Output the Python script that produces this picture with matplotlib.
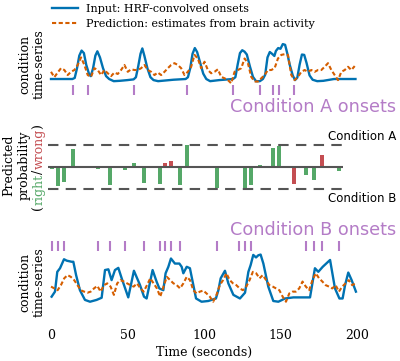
import matplotlib
matplotlib.use("Agg")
import matplotlib.pyplot as plt
import numpy as np

plt.rcParams['font.family'] = 'serif'
plt.rcParams['font.serif'] = ['DejaVu Serif']

# onset times (seconds)
onsets_a = [14.5, 24, 54, 89, 119, 136.5, 145, 149, 159]
onsets_b = [0.5, 4.5, 8.5, 30.5, 38.5, 48.5, 61, 71, 74.5, 78.5, 84.5, 108.5,
            123, 127, 130.5, 166.5, 172, 177, 188.5]

# condition A: HRF-convolved onsets
t_a = [0, 14, 15.5, 17, 18.5, 20, 21.5, 23, 25, 26, 27.5, 29, 30.3, 32, 34, 36, 38, 41, 45, 50,
       54, 55.5, 57, 58.5, 59.7, 61, 63, 65, 67, 70, 75, 80, 88, 89.5, 91, 92.5, 94, 95.5, 97.5, 99.5,
       101.5, 104, 110, 119, 120.5, 122, 123.5, 125, 126.5, 128, 130, 132, 134, 136.5, 138.5, 140,
       141.5, 143, 144.5, 146, 147, 148.5, 150, 151.5, 153, 154.5, 156, 158, 159.5, 161, 162.5, 164,
       165.5, 167, 169, 171, 174, 178, 185, 199]
v_a = [0, 0, 0.03, 0.3, 0.65, 0.79, 0.72, 0.4, 0.12, 0.08, 0.3, 0.65, 0.77, 0.6, 0.3, 0.08, 0, -0.06,
       -0.05, -0.03, -0.01, 0.05, 0.35, 0.7, 0.85, 0.65, 0.3, 0.05, -0.03, -0.06, -0.04, -0.02, 0, 0.05,
       0.3, 0.7, 0.86, 0.75, 0.45, 0.15, 0, -0.06, -0.03, 0, 0.05, 0.4, 0.72, 0.8, 0.76, 0.68, 0.35,
       0.06, -0.06, -0.06, 0.0, 0.12, 0.6, 0.75, 0.7, 0.64, 0.78, 0.86, 0.84, 0.97, 0.95, 0.7, 0.4, 0.1,
       -0.03, 0.04, 0.4, 0.68, 0.67, 0.45, 0.1, -0.02, -0.06, -0.05, 0, 0]
# condition A: prediction from brain activity
pred_a = [0.20, 0.05, 0.18, 0.30, 0.25, 0.11, 0.20, 0.25, 0.39, 0.60, 0.39, 0.11, 0.06, 0.30, 0.25,
          0.11, 0.25, 0.16, 0.08, 0.18, 0.14, 0.25, 0.39, 0.20, 0.27, 0.25, 0.25, 0.30, 0.39, 0.25,
          0.20, 0.11, 0.18, 0.11, 0.20, 0.30, 0.39, 0.44, 0.39, 0.30, 0.11, 0.20, 0.34, 0.67, 0.57,
          0.30, 0.48, 0.25, 0.16, 0.20, 0.27, 0.06, 0.02, -0.03, -0.12, 0.20, 0.25, 0.30, 0.57, 0.44,
          0.06, -0.07, -0.07, 0.02, 0.11, 0.25, 0.25, 0.30, 0.57, 0.67, 0.69, 0.67, 0.11, -0.03, 0.06,
          0.20, 0.25, 0.20, 0.25, 0.20, 0.25, 0.25, 0.34, 0.44, 0.25, 0.11, -0.03, 0.20, 0.25, 0.34,
          0.25, 0.36]

# condition B
t_b = [0.4, 2.6, 4.1, 5.9, 8.5, 10.3, 13.5, 14.6, 16.4, 18.9, 22.2, 25.5, 29.8, 33.1, 35.3, 37.5,
       39.6, 41.8, 44.0, 46.2, 50.5, 54.2, 58.2, 60.8, 62.5, 66.4, 69.0, 70.8, 73.4, 74.9, 76.7, 78.4,
       81.0, 83.9, 85.4, 86.5, 88.7, 90.8, 94.8, 98.4, 102.8, 107.8, 109.4, 110.9, 113.7, 115.9,
       119.2, 123.5, 126.8, 129.0, 130.5, 132.2, 134.0, 135.5, 137.0, 138.8, 142.0, 145.3, 148.6,
       153.0, 158.4, 169.3, 172.5, 174.7, 177.6, 182.4, 185.6, 188.5, 190.6, 192.2, 194.3, 196.5, 199.3]
v_b = [0.14, 0.28, 0.83, 0.93, 1.18, 1.14, 1.11, 1.11, 0.74, 0.32, 0.05, 0, 0.05, 0.11, 0.88, 0.90,
       0.60, 0.88, 0.94, 0.65, 0.12, 0.86, 0.46, 0.14, 0.09, 0.88, 0.56, 0.37, 0.32, 0.79, 0.97, 1.20,
       1.06, 1.06, 0.97, 0.79, 0.97, 0.93, 0.09, 0, 0.02, 0.09, 0.32, 0.65, 0.86, 0.51, 0.19, 0.09,
       0.25, 0.83, 1.02, 1.30, 1.23, 1.29, 1.31, 1.06, 0.42, 0.02, 0, 0.09, 0.12, 0.12, 0.93, 0.83,
       0.97, 1.16, 0.37, 0.09, 0.09, 0.46, 0.81, 0.60, 0.28]
pred_b = [0.42, 0.37, 0.32, 0.46, 0.65, 0.74, 0.69, 0.60, 0.46, 0.32, 0.28, 0.25, 0.28, 0.37, 0.44,
          0.28, 0.46, 0.51, 0.42, 0.19, 0.51, 0.60, 0.56, 0.51, 0.46, 0.42, 0.51, 0.37, 0.28, 0.46,
          0.65, 0.51, 0.37, 0.14, 0.42, 0.69, 0.60, 0.51, 0.46, 0.37, 0.51, 0.69, 0.60, 0.32, 0.23,
          0.28, 0.31, 0.23, 0.14, 0.0, 0.19, 0.46, 0.60, 0.79, 0.60, 0.51, 0.46, 0.37, 0.32, 0.42,
          0.60, 0.83, 0.79, 0.65, 0.74, 0.60, 0.46, 0.42, 0.37, 0.32, 0.14, 0.0, 0.23, 0.28, 0.28,
          0.37, 0.56, 0.42, 0.32, 0.60, 0.79, 0.65, 0.56, 0.46, 0.42, 0.37, 0.46, 0.28, 0.42, 0.51,
          0.60, 0.46, 0.51]

# predicted probability at each onset (+ = condition A, - = condition B)
trial_times = [0.5, 4.5, 8.5, 14.5, 24, 30.5, 38.5, 48.5, 54, 61, 71, 74.5, 78.5, 84.5, 89, 108.5,
               119, 123, 127, 130.5, 136.5, 145, 149, 159, 166.5, 172, 177, 188.5]
trial_probs = [-0.12, -0.87, -0.70, 0.81, -0.08, -0.12, -0.82, -0.16, 0.18, -0.72, -0.78, 0.15, 0.24,
               -0.82, 0.97, -0.97, 0.0, 0.0, -1.0, -0.82, 0.10, 0.87, 0.96, -0.78, -0.37, -0.60,
               0.51, -0.20]
trial_true = ['B', 'B', 'B', 'A', 'A', 'B', 'B', 'B', 'A', 'B', 'B', 'B', 'B', 'B', 'A', 'B', 'A',
              'B', 'B', 'B', 'A', 'A', 'A', 'A', 'B', 'B', 'B', 'B']

BLUE = '#0072B2'
ORANGE = '#D55E00'
PURPLE = '#B47CC7'
GREEN = '#55A868'
RED = '#C44E52'
GRAY = '#555555'

W, H = 400., 361.
fig = plt.figure(figsize=(4, 3.61), dpi=100)
left = 43.35 / W
width = 321.3 / W
ax1 = fig.add_axes([left, 0.7263, width, 0.1645])
ax2 = fig.add_axes([left, 0.4468, width, 0.1828])
ax3 = fig.add_axes([left, 0.1044, width, 0.2393])

for ax in (ax1, ax2, ax3):
  ax.set_xlim(-5, 205)
  for s in ax.spines.values():
    s.set_visible(False)
  ax.set_yticks([])

# top panel
l1, = ax1.plot(t_a, v_a, color=BLUE, lw=1.7, label='Input: HRF-convolved onsets')
l2, = ax1.plot(np.linspace(0, 198.5, len(pred_a)), pred_a, color=ORANGE, lw=1.5,
               dashes=(2, 1.2), label='Prediction: estimates from brain activity')
ax1.vlines(onsets_a, -0.44, -0.17, color=PURPLE, lw=1.5)
ax1.set_ylim(-0.55, 1.1)
ax1.set_xticks([])

# middle panel
colors = []
for p, c in zip(trial_probs, trial_true):
  ok = (p > 0 and c == 'A') or (p <= 0 and c == 'B')
  colors.append(GREEN if ok else RED)
ax2.bar(trial_times, trial_probs, width=2.7, color=colors, zorder=1)
ax2.hlines([0], -2, 191, color=GRAY, lw=1.5, zorder=2)
ax2.hlines([-1, 1], -2, 191, color=GRAY, lw=1.5, linestyles=(0, (5, 3.5)), zorder=2)
ax2.set_ylim(-1.5, 1.5)
ax2.set_xticks([])

# bottom panel
ax3.plot(t_b, v_b, color=BLUE, lw=1.7)
ax3.plot(np.linspace(0, 199, len(pred_b)), pred_b, color=ORANGE, lw=1.5, dashes=(2, 1.2))
ax3.vlines(onsets_b, 1.41, 1.69, color=PURPLE, lw=1.5)
ax3.set_ylim(-0.6, 1.8)
ax3.set_xticks([0, 50, 100, 150, 200])
ax3.tick_params(axis='x', length=0, labelsize=9, pad=4)
ax3.set_xlabel('Time (seconds)', fontsize=9, labelpad=3)

fig.legend([l1, l2], [l1.get_label(), l2.get_label()], loc='upper left',
           bbox_to_anchor=(52 / W, 1 - 4 / H), frameon=False, borderpad=0, borderaxespad=0,
           handlelength=2.35, handletextpad=0.7, labelspacing=0.45, fontsize=8)

sans = 'DejaVu Sans'
fig.text(396 / W, 1 - 111.7 / H, 'Condition A onsets', color=PURPLE, fontsize=12.7,
         family=sans, ha='right', va='baseline')
fig.text(396 / W, 1 - 235 / H, 'Condition B onsets', color=PURPLE, fontsize=12.7,
         family=sans, ha='right', va='baseline')
fig.text(396 / W, 1 - 140 / H, 'Condition A', fontsize=8.5, family=sans, ha='right', va='baseline')
fig.text(396 / W, 1 - 201.7 / H, 'Condition B', fontsize=8.5, family=sans, ha='right', va='baseline')

def vlabel(x, y, s, **kw):
  return fig.text(x / W, 1 - y / H, s, rotation=90, rotation_mode='anchor',
                  ha='center', va='baseline', fontsize=9, **kw)

vlabel(28.3, 64.5, 'condition')
vlabel(43, 64.5, 'time-series')
vlabel(28.3, 282, 'condition')
vlabel(43, 282, 'time-series')
vlabel(12.7, 165, 'Predicted')
vlabel(27.8, 165, 'probability')

# multi-coloured third line of the middle label
pieces = [('(', 'black'), ('right', GREEN), ('/', 'black'), ('wrong', RED), (')', 'black')]
renderer = fig.canvas.get_renderer()
tmp = []
total = 0
for s, c in pieces:
  t = fig.text(0, 0, s, rotation=90, rotation_mode='anchor', ha='left', va='baseline', fontsize=9)
  w = t.get_window_extent(renderer).height
  tmp.append((t, w))
  total += w
ypos = 167 + total / 2
for (t, w), (s, c) in zip(tmp, pieces):
  t.set_position((42.3 / W, 1 - ypos / H))
  t.set_color(c)
  ypos -= w

fig.savefig('out.png', dpi=100)
